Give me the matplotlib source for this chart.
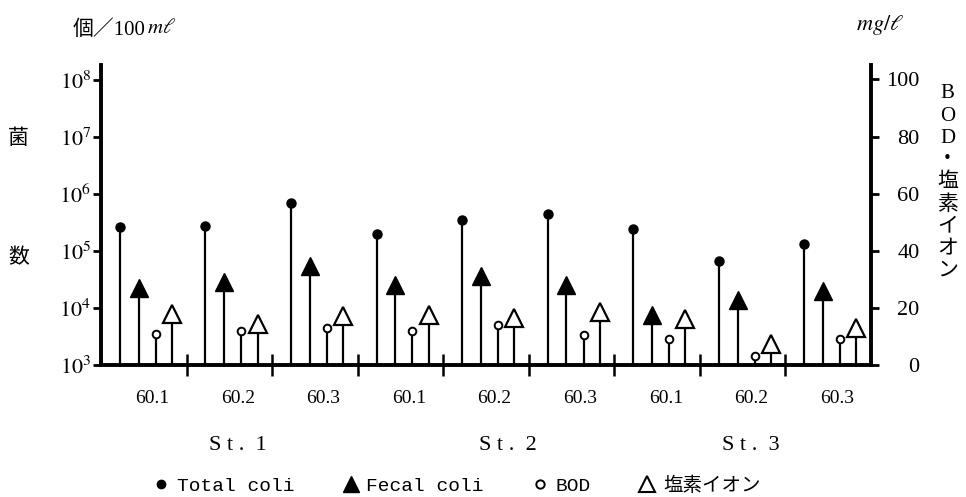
import numpy as np
import matplotlib
matplotlib.use('Agg')
import matplotlib.pyplot as plt
from matplotlib.lines import Line2D

# data
stations = ['S t .  1', 'S t .  2', 'S t .  3']
months = ['60.1', '60.2', '60.3'] * 3
total_coli = [2.6e5, 2.7e5, 6.9e5, 2.0e5, 3.5e5, 4.5e5, 2.4e5, 6.8e4, 1.3e5]
fecal_coli = [2.2e4, 2.9e4, 5.5e4, 2.5e4, 3.6e4, 2.5e4, 7.5e3, 1.4e4, 2.0e4]
bod = [11, 12, 13, 12, 14, 10.5, 9, 3, 9]
chloride = [18, 14.5, 17, 17.5, 16.5, 18.5, 16, 7.5, 13]

plt.rcParams['mathtext.fontset'] = 'stix'
plt.rcParams['font.family'] = ['Liberation Serif', 'Noto Sans CJK JP']

fig = plt.figure(figsize=(9.66, 4.97), dpi=100)
ax = fig.add_axes([0.1046, 0.2656, 0.7971, 0.6034])
ax2 = ax.twinx()

g = np.arange(len(months))
x_tc = g + 0.22
x_fc = g + 0.44
x_bod = g + 0.64
x_cl = g + 0.83

# bacteria (log axis)
ax.set_yscale('log')
ax.set_ylim(1e3, 10 ** 8.26)
ax.vlines(x_tc, 1e3, total_coli, color='black', lw=1.6)
ax.plot(x_tc, total_coli, 'o', color='black', ms=6.5, zorder=3)
ax.vlines(x_fc, 1e3, fecal_coli, color='black', lw=1.6)
ax.plot(x_fc, fecal_coli, '^', color='black', ms=13, zorder=3)

# BOD / chloride (linear axis)
ax2.set_ylim(0, 105)
ax2.vlines(x_bod, 0, bod, color='black', lw=1.6)
ax2.plot(x_bod, bod, 'o', mfc='white', mec='black', mew=1.4, ms=5.5, zorder=3)
ax2.vlines(x_cl, 0, chloride, color='black', lw=1.6)
ax2.plot(x_cl, chloride, '^', mfc='white', mec='black', mew=1.6, ms=13, zorder=3)

ax.set_xlim(0, len(months))

# spines
for a in (ax, ax2):
    a.spines['top'].set_visible(False)
ax.spines['right'].set_visible(False)
ax2.spines['left'].set_visible(False)
ax2.spines['bottom'].set_visible(False)
ax.spines['left'].set_linewidth(2.8)
ax.spines['bottom'].set_linewidth(2.8)
ax2.spines['right'].set_linewidth(2.8)

# y ticks
ax.set_yticks([10 ** k for k in range(3, 9)])
ax.set_yticklabels([r'$10^{%d}$' % k for k in range(3, 9)])
ax.yaxis.set_minor_locator(matplotlib.ticker.NullLocator())
ax.tick_params(axis='y', direction='out', length=6, width=2, labelsize=16, pad=1)

ax2.set_yticks(range(0, 101, 20))
ax2.tick_params(axis='y', direction='out', length=6, width=2, labelsize=16, pad=29)
for lbl in ax2.get_yticklabels():
    lbl.set_ha('right')

# x ticks: separators and month labels
ax.set_xticks(np.arange(1, len(months)))
ax.set_xticklabels([])
ax.tick_params(axis='x', which='major', direction='inout', length=16, width=1.8)
ax.set_xticks(g + 0.6, minor=True)
ax.set_xticklabels(months, minor=True)
ax.tick_params(axis='x', which='minor', length=0, labelsize=14, pad=18)

trans = matplotlib.transforms.blended_transform_factory(ax.transData, ax.transAxes)
for xs, st in zip([1.6, 4.75, 7.6], stations):
    ax.text(xs, -0.27, st, transform=trans, ha='center', va='center', fontsize=16)

# axis titles
fig.text(0.151, 0.94, '個／100', fontsize=15, ha='right', va='center')
fig.text(0.152, 0.942, '$m\\ell$', fontsize=15, ha='left', va='center')
fig.text(0.886, 0.95, '$mg/\\ell$', fontsize=16, ha='left', va='center')
fig.text(0.019, 0.722, '菌', fontsize=15, ha='center', va='center',
         family='Noto Sans CJK JP')
fig.text(0.019, 0.483, '数', fontsize=15, ha='center', va='center',
         family='Noto Sans CJK JP')
fig.text(0.981, 0.83, '\n'.join('BOD・塩素イオン'), fontsize=15, ha='center',
         va='top', linespacing=1.22)

# legend
handles = [
    Line2D([], [], ls='', marker='o', color='black', ms=6),
    Line2D([], [], ls='', marker='^', color='black', ms=12),
    Line2D([], [], ls='', marker='o', mfc='white', mec='black', mew=1.4, ms=6),
    Line2D([], [], ls='', marker='^', mfc='white', mec='black', mew=1.5, ms=12),
]
labels = ['Total coli', 'Fecal coli', 'BOD', '塩素イオン']
fig.legend(handles, labels, ncol=4, loc='center', bbox_to_anchor=(0.473, 0.022),
           frameon=False, handlelength=0.8, handletextpad=0.4, columnspacing=2.5,
           prop={'family': ['Liberation Mono', 'Noto Sans CJK JP'], 'size': 14})

fig.savefig('out.png', dpi=100)
